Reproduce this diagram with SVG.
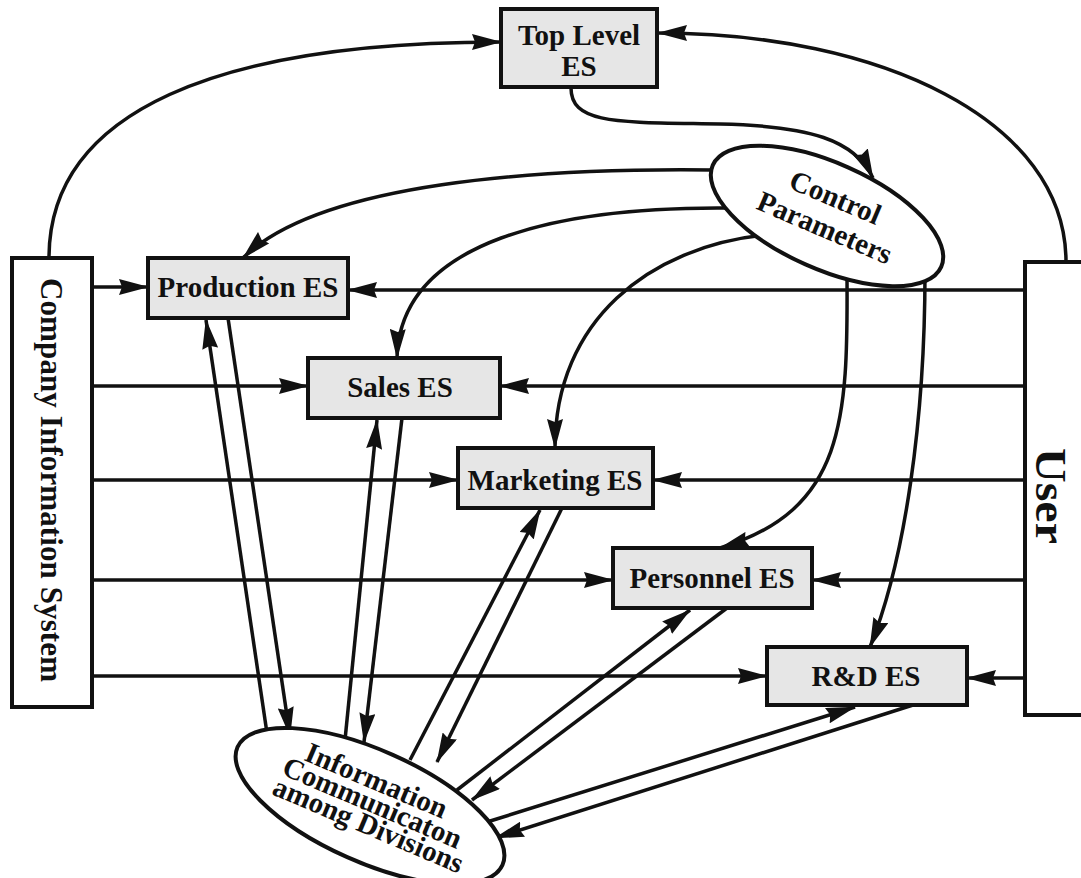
<svg xmlns="http://www.w3.org/2000/svg" width="1081" height="878" viewBox="0 0 1081 878">
  <defs>
    <marker id="arrow" markerUnits="userSpaceOnUse" markerWidth="30" markerHeight="16" refX="29" refY="8" orient="auto">
      <path d="M0,0 L30,8 L0,16 L3,8 z" fill="#111"/>
    </marker>
    <style>
      .box { fill: #e6e6e6; stroke: #111; stroke-width: 4; }
      .plain { fill: #fff; stroke: #111; stroke-width: 4; }
      .oval { fill: #fff; stroke: #111; stroke-width: 4; }
      .conn { fill: none; stroke: #111; stroke-width: 3.5; }
      .arr { marker-end: url(#arrow); }
      .lbl { font-family: "Liberation Serif", "Times New Roman", serif; font-weight: bold; font-size: 29px; fill: #111; text-anchor: middle; }
      .side { font-family: "Liberation Serif", "Times New Roman", serif; font-weight: bold; fill: #111; text-anchor: middle; }
    </style>
  </defs>

  <rect width="1081" height="878" fill="#fff"/>

  <g id="connectors">
    <!-- feeds to the top level ES -->
    <path class="conn arr" d="M49,258 C49,110 220,42 501,42"/>
    <path class="conn arr" d="M1066,262 C1066,120 880,33 658,33"/>
    <!-- top level ES to control parameters -->
    <path class="conn arr" d="M571,88 C571,125 620,122 720,124 C810,126 855,140 873,178"/>

    <!-- control parameters to each division -->
    <path class="conn arr" d="M712,170 C540,168 320,182 243,258"/>
    <path class="conn arr" d="M732,208 C560,206 400,240 397,358"/>
    <path class="conn arr" d="M765,235 C650,247 555,320 555,448"/>
    <path class="conn arr" d="M847,275 C848,420 845,510 720,548"/>
    <path class="conn arr" d="M925,272 C925,420 905,560 870,647"/>

    <!-- company information system inputs -->
    <path class="conn arr" d="M92,287 L148,287"/>
    <path class="conn arr" d="M92,386 L308,386"/>
    <path class="conn arr" d="M92,480 L458,480"/>
    <path class="conn arr" d="M92,580 L613,580"/>
    <path class="conn arr" d="M92,676 L767,676"/>

    <!-- user inputs -->
    <path class="conn arr" d="M1025,290 L348,290"/>
    <path class="conn arr" d="M1025,386 L500,386"/>
    <path class="conn arr" d="M1025,480 L653,480"/>
    <path class="conn arr" d="M1025,580 L812,580"/>
    <path class="conn arr" d="M1025,678 L967,678"/>

    <!-- exchanges with the inter-division communication -->
    <path class="conn arr" d="M268,740 L206,320"/>
    <path class="conn arr" d="M228,318 L290,736"/>
    <path class="conn arr" d="M345,740 L377,420"/>
    <path class="conn arr" d="M402,418 L364,742"/>
    <path class="conn arr" d="M410,760 L540,510"/>
    <path class="conn arr" d="M562,508 L437,762"/>
    <path class="conn arr" d="M457,790 L690,610"/>
    <path class="conn arr" d="M727,608 L472,800"/>
    <path class="conn arr" d="M487,822 L855,707"/>
    <path class="conn arr" d="M913,705 L495,838"/>
  </g>

  <g id="top-level-es">
    <rect class="box" x="501" y="9" width="156" height="78"/>
    <text class="lbl" x="579" y="45">Top Level</text>
    <text class="lbl" x="579" y="76">ES</text>
  </g>

  <g id="company-information-system">
    <rect class="plain" x="12" y="258" width="80" height="449"/>
    <text class="side" font-size="31" transform="translate(41,480) rotate(90)" textLength="404" lengthAdjust="spacing">Company Information System</text>
  </g>

  <g id="user">
    <rect class="plain" x="1025" y="262" width="80" height="453"/>
    <text class="side" font-size="44" transform="translate(1036,496) rotate(90)" textLength="96" lengthAdjust="spacingAndGlyphs">User</text>
  </g>

  <g id="control-parameters">
    <ellipse class="oval" cx="827" cy="216" rx="125" ry="53" transform="rotate(24 827 216)"/>
    <g transform="translate(824,214) rotate(23)">
      <text class="lbl" font-size="27" x="4" y="-10">Control</text>
      <text class="lbl" font-size="27" x="6" y="22">Parameters</text>
    </g>
  </g>

  <g id="production-es">
    <rect class="box" x="148" y="258" width="200" height="60"/>
    <text class="lbl" x="248" y="297">Production ES</text>
  </g>

  <g id="sales-es">
    <rect class="box" x="308" y="358" width="192" height="60"/>
    <text class="lbl" x="400" y="397">Sales ES</text>
  </g>

  <g id="marketing-es">
    <rect class="box" x="458" y="448" width="195" height="60"/>
    <text class="lbl" x="555" y="490">Marketing ES</text>
  </g>

  <g id="personnel-es">
    <rect class="box" x="613" y="548" width="199" height="60"/>
    <text class="lbl" x="712" y="588">Personnel ES</text>
  </g>

  <g id="rd-es">
    <rect class="box" x="767" y="647" width="200" height="58"/>
    <text class="lbl" x="866" y="686">R&amp;D ES</text>
  </g>

  <g id="information-communication">
    <ellipse class="oval" cx="370" cy="806" rx="145" ry="56" transform="rotate(24 370 806)"/>
    <g transform="translate(371,806) rotate(23)">
      <text class="lbl" font-size="22.5" x="-5" y="-16">Information</text>
      <text class="lbl" font-size="22.5" x="0" y="6">Communicaton</text>
      <text class="lbl" font-size="22.5" x="5" y="28">among Divisions</text>
    </g>
  </g>
</svg>
